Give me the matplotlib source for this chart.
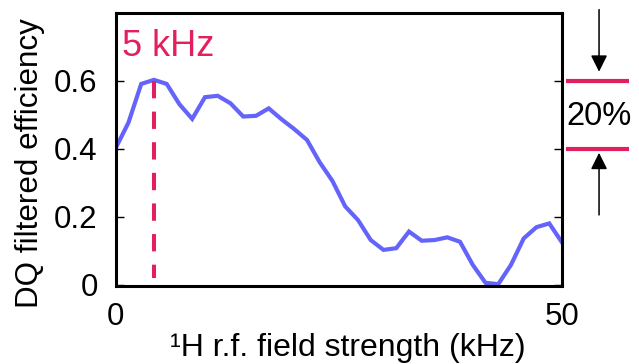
import matplotlib
matplotlib.use("Agg")
import matplotlib.pyplot as plt
import matplotlib.transforms as mtransforms
import numpy as np

plt.rcParams['font.family'] = ['Liberation Sans', 'DejaVu Sans']

# Data
field_khz = list(np.linspace(0, 50, 36))
efficiency = [0.402, 0.477, 0.591, 0.603, 0.591, 0.531, 0.488, 0.552, 0.556, 0.534,
              0.495, 0.497, 0.519, 0.487, 0.458, 0.426, 0.360, 0.305, 0.230, 0.190,
              0.131, 0.102, 0.107, 0.156, 0.129, 0.131, 0.139, 0.126, 0.058, 0.005,
              0.001, 0.058, 0.136, 0.169, 0.180, 0.124]
peak_x = 4.3
peak_label = "5 kHz"
yticks = [0, 0.2, 0.4, 0.6]
yticklabels = ["0", "0.2", "0.4", "0.6"]
xticks = [0, 50]
range_lines = [0.6, 0.4]
range_label = "20%"

pink = '#E3205E'
blue = '#6464FA'

fig = plt.figure(figsize=(6.39, 3.64), dpi=100)
ax = fig.add_axes([115.7 / 639, 1 - 286 / 364, 446.3 / 639, 273 / 364])

ax.plot(field_khz, efficiency, color=blue, lw=3.0, solid_joinstyle='miter')
ax.plot([peak_x, peak_x], [0.6, 0.018], color=pink, lw=2.9, dashes=(4.3, 3.3))
ax.text(0.76, 0.674, peak_label, color=pink, fontsize=26, va='baseline', ha='left')

ax.set_xlim(0, 50)
ax.set_ylim(-0.0044, 0.8)
ax.set_xticks(xticks)
ax.set_yticks(yticks)
ax.set_yticklabels(yticklabels)
ax.tick_params(direction='in', length=5.5, width=1, labelsize=22.5, right=True, top=False)
ax.tick_params(axis='y', pad=13)
ax.tick_params(axis='x', pad=11.5, length=0)
for s in ax.spines.values():
    s.set_linewidth(2.2)

ax.set_xlabel("¹H r.f. field strength (kHz)", fontsize=23)
ax.set_ylabel("DQ filtered efficiency", fontsize=22.6)
ax.xaxis.set_label_coords(0.52, -0.172)
ax.yaxis.set_label_coords(-0.158, 0.4505)

# Right-side annotations
trans = mtransforms.blended_transform_factory(ax.transAxes, ax.transData)
for yv in range_lines:
    ax.plot([1.009, 1.150], [yv, yv], color=pink, lw=3.0, transform=trans, clip_on=False,
            solid_capstyle='butt')
ax.text(1.084, 0.4705, range_label, fontsize=23.5, ha='center', va='baseline', transform=trans)
arrow_style = dict(arrowstyle='-|>,head_length=1.0,head_width=0.5', color='black', lw=1.1,
                   shrinkA=0, shrinkB=0)
ax.annotate('', xy=(1.083, 0.627), xytext=(1.083, 0.81), xycoords=trans, textcoords=trans,
            arrowprops=arrow_style)
ax.annotate('', xy=(1.083, 0.388), xytext=(1.083, 0.205), xycoords=trans, textcoords=trans,
            arrowprops=arrow_style)

fig.savefig('out.png', dpi=100)
